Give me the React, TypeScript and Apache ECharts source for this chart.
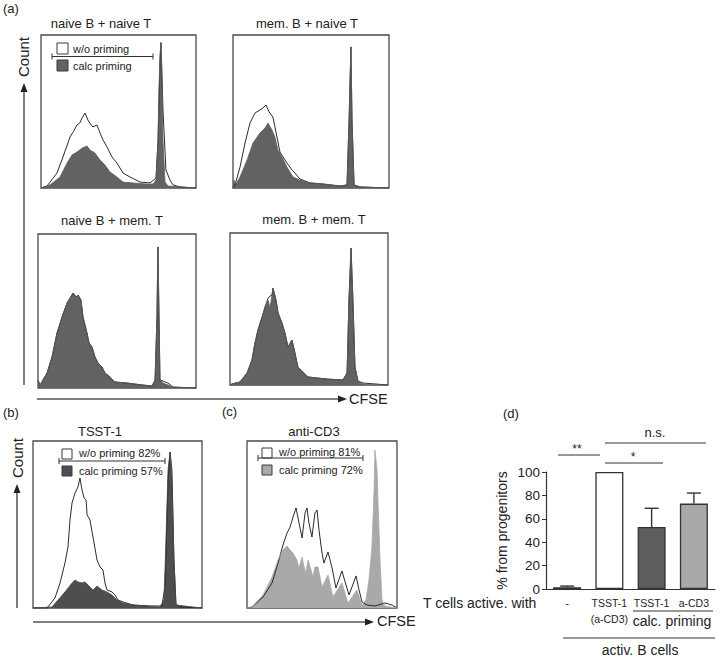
import React, { useEffect, useRef } from "react";
import * as echarts from "echarts";

// ---------- Histogram data: [CFSE (relative 0-100), Count (% of panel height)] ----------
// (a) naive B + naive T
const tlWithout = [[0,0],[3.9,1.3],[10.3,9.8],[14.2,20.3],[18.7,33.3],[21,37],[23.2,41.2],[25,42.5],[26.5,45.8],[28.4,49],[30.3,44.4],[31.8,42],[33.5,39.9],[36.1,41.2],[38.1,35.9],[40,31.4],[42.6,26.8],[45.8,20.3],[49,16.3],[52.9,9.8],[57.4,7.2],[63.9,3.9],[70.3,3.3],[74.2,6.5],[75.5,31],[76.8,84],[77.4,95],[78.7,51],[80.6,11.8],[83.2,5.2],[85.2,2],[89.7,0.7],[100,0]];
const tlCalc = [[0,0],[5.8,2],[12.3,7.2],[16.8,16.3],[20,21.6],[23.2,23.5],[26.5,26.1],[29.7,27.5],[31.6,24.8],[34.8,22.9],[38.1,18.3],[41.3,15],[44.5,10.5],[49,7.2],[52.9,3.9],[59.4,3.3],[68.4,2.6],[72.3,2.6],[74.2,5.2],[75.5,31],[76.1,64],[76.8,87],[77.4,95],[78.1,70.6],[78.7,31],[80,3.9],[81.9,1.3],[100,0]];
// (a) mem. B + naive T
const trWithout = [[0,0],[1.3,2],[4.5,13.7],[7.7,29.4],[10.9,42.5],[14.1,49],[17.3,51],[19.2,52.3],[21.2,54.2],[23.1,49.7],[25.6,46.4],[28.2,33.3],[30.1,23.5],[32.1,20.3],[34.6,16.3],[37.8,11.8],[39.7,9.8],[42.9,5.9],[49.4,3.3],[57.7,2.6],[68.6,1.3],[73.1,2],[74.4,44.4],[75.6,92.2],[76.3,44.4],[77.6,2],[81.4,0.7],[100,0]];
const trCalc = [[0,0],[0.6,5.2],[1.9,2.6],[4.5,7.2],[9,18.3],[12.8,29.4],[17.3,35.9],[20.5,39.2],[22.4,42.5],[25,37.9],[26.9,33.3],[28.8,24.8],[31.4,20.3],[34.6,13.7],[38.5,7.2],[42.9,5.2],[49.4,3.3],[57.7,2.6],[68.6,1.3],[73.1,2],[74.4,44.4],[75.6,92.2],[76.3,44.4],[77.6,2],[81.4,0.7],[100,0]];
// (a) naive B + mem. T
const blWithout = [[0,5.2],[1.3,1.9],[5.7,9.7],[8.9,20.1],[12,35.7],[13.9,41.5],[15.2,46.1],[18.4,55.2],[20.3,58.4],[22.2,61.7],[24.1,59.1],[25.3,60.4],[27.2,57.1],[28.5,46.1],[31,35.7],[32.3,29.2],[34.2,26.6],[36.1,20.1],[38,16.2],[40.5,13.6],[42.4,9.7],[45.6,7.1],[48.7,3.9],[56.3,3.2],[66.5,1.9],[72.2,1.3],[74.1,5.2],[75.3,46.1],[75.9,91.6],[76.6,46.1],[77.2,5.2],[79.1,4.5],[82.3,3.2],[85.4,0.6],[100,0]];
const blCalc = [[0,5.2],[1.3,1.9],[5.7,9.7],[8.9,20.1],[12,35.7],[15.2,46.1],[18.4,55.2],[20.3,58.4],[22.2,61.7],[24.1,59.1],[25.3,60.4],[27.2,57.1],[28.5,46.1],[31,35.7],[32.3,29.2],[34.2,26.6],[36.1,20.1],[38,16.2],[40.5,13.6],[42.4,9.7],[45.6,7.1],[48.7,3.9],[56.3,3.2],[66.5,1.9],[72.2,1.3],[74.1,5.2],[75.3,46.1],[75.9,91.6],[76.6,46.1],[77.2,5.2],[79.1,3.2],[82.3,1.9],[85.4,0.6],[100,0]];
// (a) mem. B + mem. T
const brWithout = [[0,0],[1.3,0.7],[6.3,2],[10.8,7.9],[13.9,16.4],[15.8,27.6],[17.7,36.2],[20.3,44.7],[22.2,51.3],[24.1,57],[25.3,58.5],[26.6,59.2],[27.2,63.8],[29.1,55.9],[30.4,47.4],[32.9,40.8],[34.8,34.2],[36.7,25],[39.2,29.6],[41.1,21.1],[43,11.8],[46.2,8.6],[49.4,5.3],[55.1,4.6],[61.4,3.9],[71.5,3.3],[74.1,7.9],[75.3,55.9],[76.6,90.1],[77.8,55.9],[79.1,11.8],[81,2.6],[84.2,1.3],[100,0]];
const brCalc = [[0,0],[1.3,0.7],[6.3,2],[10.8,7.9],[13.9,16.4],[15.8,27.6],[17.7,36.2],[20.3,44.7],[22.2,51.3],[24.1,55.9],[25.3,50.7],[26.6,59.2],[27.2,63.8],[29.1,55.9],[30.4,47.4],[32.9,40.8],[34.8,34.2],[36.7,25],[39.2,29.6],[41.1,21.1],[43,11.8],[46.2,8.6],[49.4,5.3],[55.1,4.6],[61.4,3.9],[71.5,3.3],[74.1,7.9],[75.3,55.9],[76.6,90.1],[77.8,55.9],[79.1,11.8],[81,2],[84.2,0.7],[100,0]];
// (b) TSST-1
const bWithout = [[0,0],[8.3,0],[13,6],[16,15],[18.9,26.9],[20.7,36.5],[21.9,52.7],[23.1,62.9],[24.9,68.9],[26.6,72.5],[27.8,77.8],[29,70.7],[30.2,65.9],[31.4,64.7],[32,55.7],[33.1,53.9],[33.7,52.7],[35.5,42.5],[37.9,28.7],[39.6,24.6],[41.4,22.8],[42.6,15],[43.8,10.8],[46.7,9.6],[48.5,7.8],[50.3,4.8],[53.3,3.6],[59.2,1.8],[69.2,1.2],[76.3,1.2],[78.1,12.6],[79.9,76.6],[81.1,93.4],[82.2,82.6],[83.4,28.7],[84.6,2.4],[87,0.6],[100,0]];
const bCalc = [[0,0],[11.2,0.6],[14.8,4.8],[18.9,9.6],[23.1,15],[24.9,16.8],[26.6,15.6],[29,15],[30.8,15.6],[32.5,13.8],[35.5,10.8],[37.9,13.2],[40.8,10.8],[43.8,9.6],[46.7,7.8],[49.7,4.8],[53.3,3],[59.2,1.8],[75.1,0.6],[77.5,4.8],[78.7,40.7],[79.9,82.6],[81.1,93.4],[82.2,76.6],[83.4,28.7],[84.6,1.8],[100,0]];
// (c) anti-CD3
const cWithout = [[0,0],[3.3,0.6],[10.7,6.6],[16.7,15],[20.7,26.9],[24,37.7],[26.7,44.9],[28.7,48.5],[30.7,54.5],[32.7,59.9],[34.7,50.9],[36.7,41.9],[38.7,56.9],[40,59.9],[41.3,50.9],[43.3,42.5],[45.3,56.9],[46.7,58.7],[48,46.7],[50,32.9],[51.3,26.9],[54,33.5],[56.7,24],[59.3,12],[63.3,22.2],[66,13.8],[68,7.8],[72.7,19.2],[74.7,10.8],[76.7,3.6],[80,1.8],[85.3,1.2],[92,3],[96.7,1.8],[100,0]];
const cCalc = [[0,0],[3.3,0.6],[10.7,7.8],[16.7,18.6],[20.7,28.7],[24,34.7],[26.7,37.1],[28.7,34.7],[30.7,32.9],[33.3,28.7],[34.7,24],[36.7,30.5],[38,24.6],[39.3,21],[40.7,28.7],[42.7,22.8],[44,18.6],[45.3,24.6],[47.3,24.6],[50,12.6],[54,19.8],[57.3,6.6],[63.3,15],[67.3,3],[73.3,10.8],[76.7,1.8],[79.3,4.8],[81.3,16.8],[83.3,36.5],[84.7,70.7],[85.3,94.6],[86.7,82.6],[87.3,64.7],[88.7,28.7],[90,4.8],[92,1.2],[100,0]];

// ---------- (d) bar chart data ----------
const barCategories = ["-", "TSST-1\n(a-CD3)", "TSST-1", "a-CD3"];
const barValues = [1.5, 100, 53, 73];
const barErrorUpper = [2.5, 100, 69, 82];
const barColors = ["#1c1c1c", "#ffffff", "#5e5e5e", "#a9a9a9"];
const yTickMax = 100;
const yTickStep = 20;

const FONT = '"Liberation Sans", Arial, Helvetica, sans-serif';
const INK = "#222";

function buildOption() {
  const panels = [
    { box: { left: 41, top: 35, width: 155, height: 153 }, without: tlWithout, calc: tlCalc, fill: "#626262" },
    { box: { left: 233, top: 35, width: 156, height: 153 }, without: trWithout, calc: trCalc, fill: "#626262" },
    { box: { left: 38, top: 234, width: 158, height: 154 }, without: blWithout, calc: blCalc, fill: "#626262" },
    { box: { left: 230, top: 233, width: 158, height: 152 }, without: brWithout, calc: brCalc, fill: "#626262" },
    { box: { left: 33, top: 441, width: 169, height: 167 }, without: bWithout, calc: bCalc, fill: "#4e4e4e" },
    { box: { left: 247, top: 441, width: 150, height: 167 }, without: cWithout, calc: cCalc, fill: "#a9a9a9" },
  ];

  const grid: any[] = panels.map((p) => ({
    ...p.box,
    show: true,
    backgroundColor: "#fff",
    borderColor: "#4a4a4a",
    borderWidth: 1.3,
    containLabel: false,
  }));
  grid.push({ left: 546, top: 472, width: 169, height: 117, containLabel: false });

  const xAxis: any[] = panels.map((_, i) => ({ type: "value", gridIndex: i, min: 0, max: 100, show: false }));
  const yAxis: any[] = panels.map((_, i) => ({ type: "value", gridIndex: i, min: 0, max: 100, show: false }));
  const barGrid = panels.length;
  xAxis.push({
    type: "category",
    gridIndex: barGrid,
    data: barCategories,
    axisLine: { show: true, lineStyle: { color: "#333", width: 1.2 } },
    axisTick: { show: false },
    axisLabel: { interval: 0, fontSize: 10.5, color: INK, fontFamily: FONT, margin: 6, lineHeight: 16 },
  });
  yAxis.push({
    type: "value",
    gridIndex: barGrid,
    min: 0,
    max: yTickMax,
    interval: yTickStep,
    axisLine: { show: true, lineStyle: { color: "#333", width: 1.2 } },
    axisTick: { show: true, length: 4, lineStyle: { color: "#333" } },
    splitLine: { show: false },
    axisLabel: { fontSize: 13.5, color: INK, fontFamily: FONT, margin: 6 },
    name: "% from progenitors",
    nameLocation: "middle",
    nameGap: 37,
    nameTextStyle: { fontSize: 14, color: INK, fontFamily: FONT },
  });

  const series: any[] = [];
  panels.forEach((p, i) => {
    series.push({
      type: "line",
      xAxisIndex: i,
      yAxisIndex: i,
      data: p.without,
      symbol: "none",
      showSymbol: false,
      silent: true,
      lineStyle: { color: "#2a2a2a", width: 1 },
      areaStyle: { color: "#ffffff", opacity: 1 },
    });
    series.push({
      type: "line",
      xAxisIndex: i,
      yAxisIndex: i,
      data: p.calc,
      symbol: "none",
      showSymbol: false,
      silent: true,
      lineStyle: { color: p.fill, width: 0.8 },
      areaStyle: { color: p.fill, opacity: 1 },
    });
  });

  series.push({
    type: "bar",
    xAxisIndex: barGrid,
    yAxisIndex: barGrid,
    barWidth: 28,
    data: barValues.map((v, i) => ({ value: v, itemStyle: { color: barColors[i] } })),
    itemStyle: { borderColor: "#333", borderWidth: 1.3 },
    silent: true,
  });

  const errData = barValues
    .map((v, i) => [i, v, barErrorUpper[i]])
    .filter((d) => d[2] > d[1]);
  series.push({
    type: "custom",
    xAxisIndex: barGrid,
    yAxisIndex: barGrid,
    data: errData,
    encode: { x: 0, y: 1 },
    z: 5,
    silent: true,
    renderItem: (params: any, api: any) => {
      const x = api.value(0);
      const p0 = api.coord([x, api.value(1)]);
      const p1 = api.coord([x, api.value(2)]);
      const half = 7;
      return {
        type: "group",
        children: [
          { type: "line", shape: { x1: p0[0], y1: p0[1], x2: p1[0], y2: p1[1] }, style: { stroke: "#333", lineWidth: 1.4 } },
          { type: "line", shape: { x1: p1[0] - half, y1: p1[1], x2: p1[0] + half, y2: p1[1] }, style: { stroke: "#333", lineWidth: 1.4 } },
        ],
      };
    },
  });

  // ---------- annotations ----------
  const G: any[] = [];
  const txt = (text: string, x: number, y: number, size: number, align = "center", rot = 0) =>
    G.push({
      type: "text",
      x,
      y,
      rotation: rot,
      z: 100,
      style: { text, fill: INK, fontSize: size, fontFamily: FONT, textAlign: align, textVerticalAlign: "middle" },
    });
  const ln = (x1: number, y1: number, x2: number, y2: number, w = 1, c = "#333") =>
    G.push({ type: "line", z: 100, shape: { x1, y1, x2, y2 }, style: { stroke: c, lineWidth: w } });
  const tri = (points: number[][], c = "#333") =>
    G.push({ type: "polygon", z: 100, shape: { points }, style: { fill: c } });
  const sq = (x: number, y: number, s: number, fill: string) =>
    G.push({ type: "rect", z: 100, shape: { x, y, width: s, height: s }, style: { fill, stroke: "#3a3a3a", lineWidth: 1 } });
  const gate = (x1: number, x2: number, y: number) => {
    ln(x1, y, x2, y, 1, "#333");
    ln(x1, y - 3, x1, y + 3, 1, "#333");
    ln(x2, y - 3, x2, y + 3, 1, "#333");
  };

  // panel letters
  txt("(a)", 3, 8, 13, "left");
  txt("(b)", 3, 412, 13, "left");
  txt("(c)", 222, 411, 13, "left");
  txt("(d)", 503, 413, 13, "left");

  // (a) titles
  txt("naive B + naive T", 101, 23, 13);
  txt("mem. B + naive T", 307, 23, 13);
  txt("naive B + mem. T", 112, 220, 13);
  txt("mem. B + mem. T", 314, 219, 13);

  // (a) legend
  sq(57, 43, 11, "#ffffff");
  txt("w/o priming", 73, 49, 11, "left");
  gate(52, 153, 56.5);
  sq(57, 60, 11, "#626262");
  txt("calc priming", 73, 66, 11, "left");

  // (a) axes arrows
  ln(24, 385, 24, 91, 1.5, "#555");
  tri([[24, 83], [20.5, 92], [27.5, 92]], "#222");
  txt("Count", 23, 57, 15, "center", Math.PI / 2);
  ln(37, 399, 339, 399, 1.5, "#555");
  tri([[347, 399], [338, 395.5], [338, 402.5]], "#222");
  txt("CFSE", 349, 399, 14.5, "left");

  // (b)
  txt("TSST-1", 100, 431, 13);
  sq(62, 449, 10, "#ffffff");
  txt("w/o priming 82%", 79, 453, 11, "left");
  gate(59, 165, 461);
  sq(62, 466, 10, "#4e4e4e");
  txt("calc priming 57%", 79, 471, 11, "left");
  ln(17, 608, 17, 492, 1.5, "#555");
  tri([[17, 484], [13.5, 493], [20.5, 493]], "#222");
  txt("Count", 17, 458, 15, "center", Math.PI / 2);

  // (c)
  txt("anti-CD3", 314, 431, 13);
  sq(262, 448, 10, "#ffffff");
  txt("w/o priming 81%", 279, 452, 11, "left");
  gate(258, 363, 458);
  sq(262, 465, 10, "#a9a9a9");
  txt("calc priming 72%", 279, 470, 11, "left");

  // (b)/(c) CFSE arrow
  ln(33, 622, 366, 622, 1.5, "#555");
  tri([[374, 622], [365, 618.5], [365, 625.5]], "#222");
  txt("CFSE", 377, 621, 14.5, "left");

  // (d) significance
  ln(558, 455, 600, 455, 1);
  txt("**", 577, 449, 12);
  ln(605, 463, 663, 463, 1);
  txt("*", 633, 457, 12);
  ln(605, 443, 706, 443, 1);
  txt("n.s.", 655, 432, 13);

  // (d) x labels
  txt("T cells active. with", 423, 603, 14, "left");
  ln(633, 611, 713, 611, 1);
  txt("calc. priming", 672, 621, 14);
  ln(563, 638, 715, 638, 1);
  txt("activ. B cells", 640, 650, 14);

  return {
    animation: false,
    backgroundColor: "#ffffff",
    textStyle: { fontFamily: FONT },
    grid,
    xAxis,
    yAxis,
    series,
    graphic: { elements: G },
  };
}

export default function App() {
  const ref = useRef<HTMLDivElement>(null);
  useEffect(() => {
    const chart = echarts.init(ref.current as HTMLDivElement, null, { renderer: "svg" });
    chart.setOption(buildOption() as any);
    return () => chart.dispose();
  }, []);
  return (
    <div
      ref={ref}
      style={{ position: "absolute", left: 0, top: 0, width: 722, height: 658, background: "#fff" }}
    />
  );
}
